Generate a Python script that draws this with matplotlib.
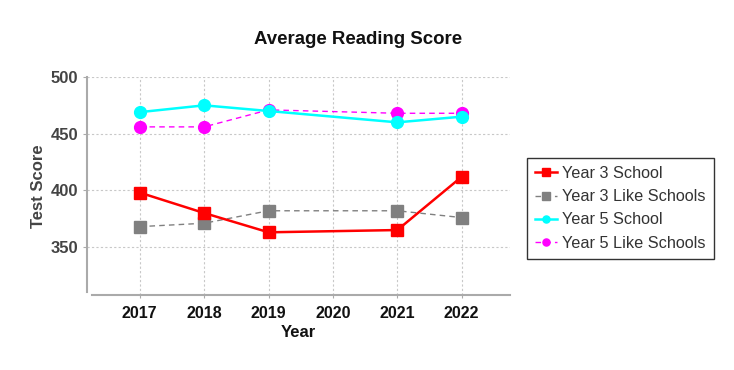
import matplotlib.pyplot as plt

plt.rcParams['font.family'] = ['Liberation Sans', 'DejaVu Sans']

years = [2017, 2018, 2019, 2021, 2022]
year3_school = [398, 380, 363, 365, 412]
year3_like = [368, 371, 382, 382, 376]
year5_school = [469, 475, 470, 460, 465]
year5_like = [456, 456, 471, 468, 468]
xticks = [2017, 2018, 2019, 2020, 2021, 2022]
yticks = [350, 400, 450, 500]

fig = plt.figure(figsize=(7.34, 3.70), dpi=100)
ax = fig.add_axes([87 / 734, 1 - 295 / 370, (510 - 87) / 734, (295 - 77) / 370])

ax.plot(years, year3_school, color='#ff0000', lw=1.8, marker='s', ms=8.5, label='Year 3 School', zorder=4)
ax.plot(years, year3_like, color='#808080', lw=1.0, ls=(0, (4, 3)), marker='s', ms=8.5, label='Year 3 Like Schools', zorder=3)
ax.plot(years, year5_school, color='#00ffff', lw=1.8, marker='o', ms=8.5, label='Year 5 School', zorder=4)
ax.plot(years, year5_like, color='#ff00ff', lw=1.0, ls=(0, (4, 3)), marker='o', ms=8.5, label='Year 5 Like Schools', zorder=3)

ax.set_xlim(2016.18, 2022.75)
ax.set_ylim(307.7, 500)
ax.set_xticks(xticks)
ax.set_yticks(yticks)
ax.grid(True, color='#c8c8c8', ls=(0, (2, 2)), lw=0.8)
ax.set_axisbelow(True)

for s in ['top', 'right']:
    ax.spines[s].set_visible(False)
ax.spines['left'].set_bounds(310, 500)
ax.spines['bottom'].set_bounds(2016.25, 2022.75)
for s in ['left', 'bottom']:
    ax.spines[s].set_color('#aaaaaa')
    ax.spines[s].set_linewidth(1.5)

ax.tick_params(axis='x', length=2, color='#aaaaaa', pad=6, labelsize=11.5, labelcolor='#111111')
ax.tick_params(axis='y', length=3, color='#aaaaaa', labelsize=12, labelcolor='#444444')
for lab in ax.get_xticklabels() + ax.get_yticklabels():
    lab.set_fontweight('bold')

ax.set_xlabel('Year', fontsize=12, fontweight='bold', color='#111111', labelpad=3)
ax.set_ylabel('Test Score', fontsize=12, fontweight='bold', color='#444444', labelpad=3)
fig.text(358 / 734, 1 - 40 / 370, 'Average Reading Score', ha='center', va='center',
         fontsize=13.4, fontweight='bold', color='#111111')

leg = fig.legend(loc='upper left', bbox_to_anchor=(527 / 734, 1 - 158 / 370),
                 fontsize=11.7, frameon=True, fancybox=False, markerscale=0.6,
                 handlelength=1.35, handletextpad=0.3, borderpad=0.5, labelspacing=0.5,
                 borderaxespad=0)
leg.get_frame().set_edgecolor('#000000')
leg.get_frame().set_linewidth(1.0)
for t in leg.get_texts():
    t.set_color('#333333')

fig.savefig('out.png', dpi=100)
